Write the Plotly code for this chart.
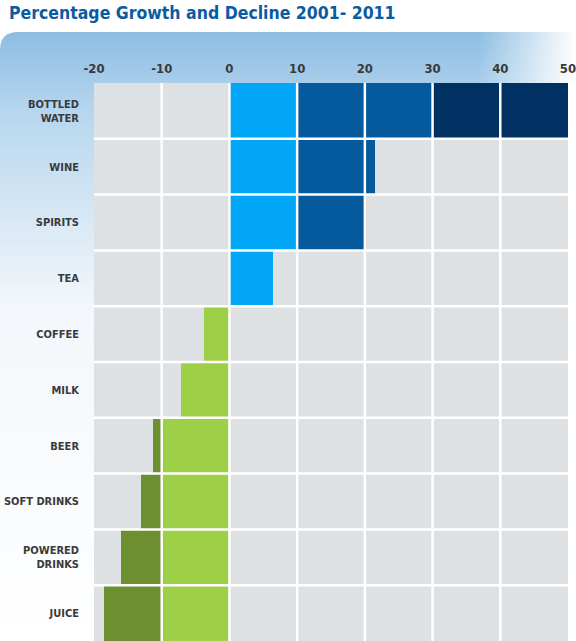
import base64
import plotly.graph_objects as go

# data
categories = ["BOTTLED<br>WATER", "WINE", "SPIRITS", "TEA", "COFFEE", "MILK",
              "BEER", "SOFT DRINKS", "POWERED<br>DRINKS", "JUICE"]
growth = [50, 21.5, 20, 6.5, -3.7, -7.2, -11.3, -13.1, -16.0, -18.5]
x_ticks = [-20, -10, 0, 10, 20, 30, 40, 50]

# colour bands along the value axis (start, end, colour)
bands = [(0, 10, "#02a7f8"), (10, 30, "#055a9d"), (30, 50, "#003162"),
         (0, -10, "#9dd047"), (-10, -20, "#6c8f30")]

W, H = 576, 641
L, R, T, B = 94, 8, 83, 0
FONT = "DejaVu Sans Condensed, Liberation Sans Narrow, Roboto, sans-serif"

fig = go.Figure()

# each bar is split into its colour bands, stacked with barmode relative
for lo, hi, col in bands:
    seg = []
    for v in growth:
        if hi > 0:
            seg.append(max(0, min(v, hi) - lo))
        else:
            seg.append(min(0, max(v, hi) - lo))
    fig.add_trace(go.Bar(y=categories, x=seg, orientation="h",
                         marker=dict(color=col, line_width=0),
                         hoverinfo="skip", showlegend=False))

# background: blue header band with rounded corner, fading to white
svg = f'''<svg xmlns="http://www.w3.org/2000/svg" width="{W}" height="{H}" viewBox="0 0 {W} {H}">
<defs>
<linearGradient id="v" x1="0" y1="0" x2="0" y2="1">
<stop offset="0" stop-color="#8dbde2"/>
<stop offset="0.13" stop-color="#b6d6ee"/>
<stop offset="0.45" stop-color="#f3f7fb"/>
<stop offset="1" stop-color="#ffffff"/>
</linearGradient>
<linearGradient id="h" x1="0" y1="0" x2="1" y2="0">
<stop offset="0" stop-color="#ffffff" stop-opacity="0"/>
<stop offset="0.83" stop-color="#ffffff" stop-opacity="0"/>
<stop offset="1" stop-color="#ffffff" stop-opacity="1"/>
</linearGradient>
</defs>
<path d="M0 {H} L0 50 Q0 32 18 32 L{W} 32 L{W} {H} Z" fill="url(#v)"/>
<rect x="0" y="32" width="{W}" height="60" fill="url(#h)"/>
<rect x="{W - R}" y="{T}" width="{R}" height="{H - T}" fill="#ffffff"/>
</svg>'''
src = "data:image/svg+xml;base64," + base64.b64encode(svg.encode()).decode()

pw, ph = W - L - R, H - T - B
fig.add_layout_image(dict(source=src, xref="paper", yref="paper",
                          x=-L / pw, y=1 + T / ph, sizex=W / pw, sizey=H / ph,
                          xanchor="left", yanchor="top", sizing="stretch",
                          layer="below"))

# grey plot area (drawn as a shape so it sits above the background image)
shapes = [dict(type="rect", xref="paper", yref="paper", x0=0, x1=1, y0=0, y1=1,
               fillcolor="#dee1e4", line_width=0, layer="below")]

# white grid lines over the bars
for xv in x_ticks[1:-1]:
    shapes.append(dict(type="line", xref="x", yref="paper", x0=xv, x1=xv,
                       y0=0, y1=1, line=dict(color="white", width=2.5),
                       layer="above"))
for i in range(len(categories) - 1):
    shapes.append(dict(type="line", xref="paper", yref="y", x0=0, x1=1,
                       y0=i + 0.5, y1=i + 0.5,
                       line=dict(color="white", width=2.5), layer="above"))

fig.update_layout(
    width=W, height=H,
    margin=dict(l=L, r=R, t=T, b=B),
    barmode="relative", bargap=0,
    paper_bgcolor="white",
    plot_bgcolor="rgba(0,0,0,0)",
    shapes=shapes,
    title=dict(text="<b>Percentage Growth and Decline 2001- 2011</b>",
               font=dict(family=FONT, size=17.5, color="#0b5ba3"),
               x=9 / W, xref="container", xanchor="left",
               y=1 - 7 / H, yref="container", yanchor="top"),
)

fig.update_xaxes(side="top", range=[-20, 50], tickvals=x_ticks,
                 ticktext=[f"<b>{v}</b>" for v in x_ticks],
                 tickfont=dict(family=FONT, size=13, color="#3a3a3a"),
                 showgrid=False, zeroline=False, ticklabelstandoff=6,
                 ticklabeloverflow="allow", automargin=False, fixedrange=True)
fig.update_yaxes(autorange="reversed", showgrid=False,
                 tickvals=categories,
                 ticktext=[f"<b>{c}</b>" for c in categories],
                 tickfont=dict(family=FONT, size=11, color="#3a3a3a"),
                 ticklabelstandoff=14, automargin=False, fixedrange=True)

# drop the page's default body margin so the figure sits at the top-left
fig.write_html("out.html", config={"displayModeBar": False},
               post_script="document.body.style.margin='0';")
